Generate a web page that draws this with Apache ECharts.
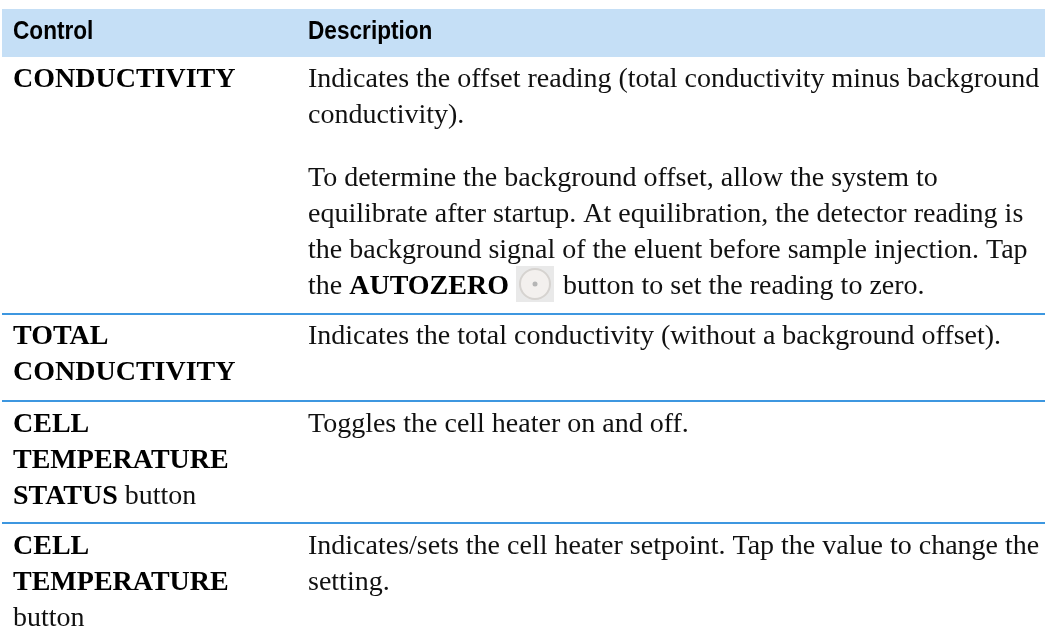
<!DOCTYPE html>
<html>
<head>
<meta charset="utf-8">
<style>
	html, body { margin: 0; padding: 0; background: #fff; }
	#table { width: 1045px; height: 638px; }
</style>
<script src="https://cdn.jsdelivr.net/npm/echarts@6/dist/echarts.min.js"></script>
</head>
<body>
<div id="table"></div>
<script>
//table text
const headers = ['Control', 'Description'];

// {b|...} = bold part
const controlLines = [
	['{b|CONDUCTIVITY}'],
	['{b|TOTAL}', '{b|CONDUCTIVITY}'],
	['{b|CELL}', '{b|TEMPERATURE}', '{b|STATUS} button'],
	['{b|CELL}', '{b|TEMPERATURE}', 'button']
];

const descriptionLines = [
	[
		'Indicates the offset reading (total conductivity minus background',
		'conductivity).',
		'',
		'To determine the background offset, allow the system to',
		'equilibrate after startup. At equilibration, the detector reading is',
		'the background signal of the eluent before sample injection. Tap',
		'the {b|AUTOZERO}'
	],
	['Indicates the total conductivity (without a background offset).'],
	['Toggles the cell heater on and off.'],
	['Indicates/sets the cell heater setpoint. Tap the value to change the', 'setting.']
];

const afterIcon = 'button to set the reading to zero.';

//layout
const colX = [13, 308];
const rowFirstLine = [80, 337, 425, 547];
const separators = [314, 401, 523];
const lineGap = 36;
const paraGap = 27;

const bodyFont = 'Liberation Serif';
const bodySize = 28;

function bodyText(x, y, text) {
	return {
		type: 'text',
		x: x,
		y: y,
		style: {
			text: text,
			fontFamily: bodyFont,
			fontSize: bodySize,
			fill: '#111',
			verticalAlign: 'middle',
			rich: {
				b: { fontFamily: bodyFont, fontSize: bodySize, fontWeight: 'bold', fill: '#000' }
			}
		}
	};
}

function drawTable() {
	const myChart = echarts.init(document.getElementById('table'));
	const items = [];

	//header band
	items.push({ type: 'rect', shape: { x: 2, y: 9, width: 1043, height: 48 }, style: { fill: '#C5DFF6' } });
	headers.forEach((item, idx) => {
		items.push({
			type: 'text',
			x: colX[idx],
			y: 32,
			scaleX: 0.87,
			style: {
				text: item,
				fontFamily: 'Liberation Sans',
				fontWeight: 'bold',
				fontSize: 26,
				fill: '#000',
				verticalAlign: 'middle'
			}
		});
	});

	//row separators
	separators.forEach((y) => {
		items.push({ type: 'rect', shape: { x: 2, y: y - 1, width: 1043, height: 2 }, style: { fill: '#3D97E0' } });
	});

	//cells
	controlLines.forEach((lines, row) => {
		lines.forEach((line, idx) => {
			items.push(bodyText(colX[0], rowFirstLine[row] + idx * lineGap, line));
		});
	});

	descriptionLines.forEach((lines, row) => {
		let y = rowFirstLine[row];
		lines.forEach((line) => {
			if (line === '') {
				y += paraGap;
				return;
			}
			items.push(bodyText(colX[1], y, line));
			y += lineGap;
		});
	});

	//AUTOZERO icon
	items.push({ type: 'rect', shape: { x: 516, y: 266, width: 38, height: 36 }, style: { fill: '#E9E9E9' } });
	items.push({ type: 'circle', shape: { cx: 535, cy: 284, r: 15 }, style: { fill: '#F3F0EE', stroke: '#D6D3D0', lineWidth: 2 } });
	items.push({ type: 'circle', shape: { cx: 535, cy: 284, r: 2.5 }, style: { fill: '#B5B5B5' } });
	items.push(bodyText(563, rowFirstLine[0] + 5 * lineGap + paraGap, afterIcon));

	myChart.setOption({
		animation: false,
		graphic: { elements: items }
	});
}

drawTable();
</script>
</body>
</html>
